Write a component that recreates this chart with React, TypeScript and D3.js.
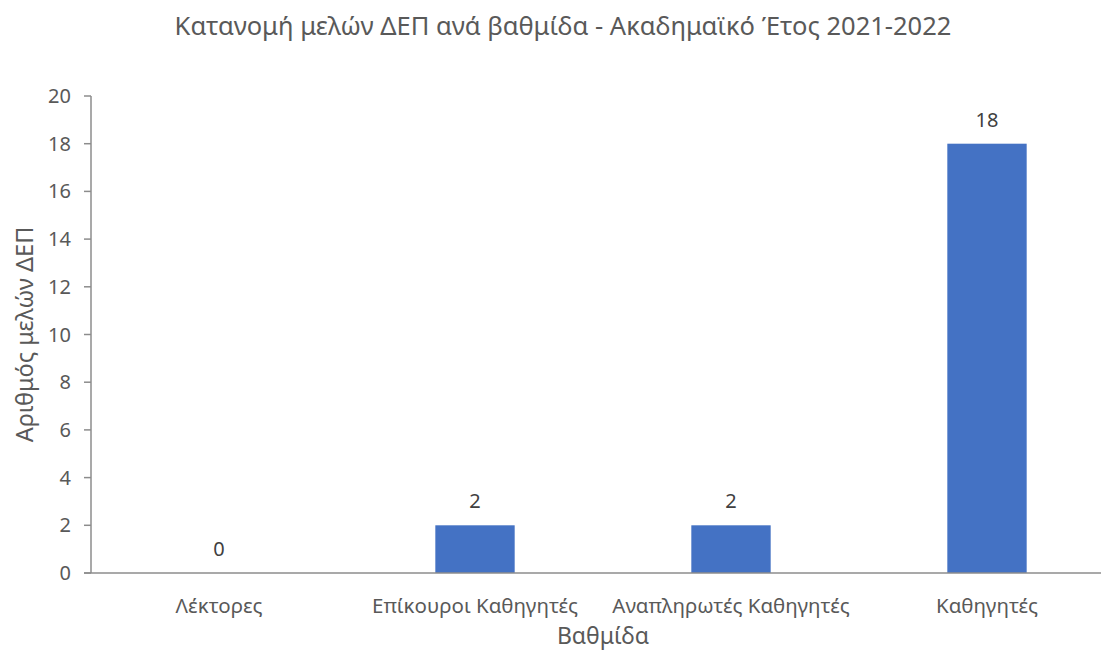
import { useEffect, useRef } from 'react';
import * as d3 from 'd3';

const categories = ['Λέκτορες', 'Επίκουροι Καθηγητές', 'Αναπληρωτές Καθηγητές', 'Καθηγητές'];
const values = [0, 2, 2, 18];
const yTicks = [0, 2, 4, 6, 8, 10, 12, 14, 16, 18, 20];

const title = 'Κατανομή μελών ΔΕΠ ανά βαθμίδα - Ακαδημαϊκό Έτος 2021-2022';
const xTitle = 'Βαθμίδα';
const yTitle = 'Αριθμός μελών ΔΕΠ';

const W = 1101;
const H = 653;
const FONT = "'Noto Sans', 'Open Sans', sans-serif";

export default function App() {
  const svgRef = useRef<SVGSVGElement>(null);

  useEffect(() => {
    if (!svgRef.current) return;
    const svg = d3.select(svgRef.current);
    svg.selectAll('*').remove();

    const left = 91;
    const right = 1115;
    const top = 96;
    const bottom = 573;

    const x = d3.scaleBand<string>().domain(categories).range([left, right]).padding(0);
    const y = d3.scaleLinear().domain([0, 20]).range([bottom, top]);
    const barW = x.bandwidth() * 0.31;

    // title
    svg
      .append('text')
      .attr('x', 563)
      .attr('y', 35)
      .attr('text-anchor', 'middle')
      .attr('fill', '#595959')
      .attr('font-size', '25.5px')
      .attr('font-family', FONT)
      .text(title);

    // bars
    svg
      .selectAll('rect.bar')
      .data(values)
      .join('rect')
      .attr('class', 'bar')
      .attr('x', (_d, i) => (x(categories[i]) ?? 0) + x.bandwidth() / 2 - barW / 2)
      .attr('y', (d) => y(d))
      .attr('width', barW)
      .attr('height', (d) => bottom - y(d))
      .attr('fill', '#4472C4');

    // data labels
    svg
      .selectAll('text.val')
      .data(values)
      .join('text')
      .attr('class', 'val')
      .attr('x', (_d, i) => (x(categories[i]) ?? 0) + x.bandwidth() / 2)
      .attr('y', (d) => y(d) - 17)
      .attr('text-anchor', 'middle')
      .attr('fill', '#404040')
      .attr('font-size', '20px')
      .attr('font-family', FONT)
      .text((d) => String(d));

    // y axis
    const axisColor = '#8c8c8c';
    svg
      .append('line')
      .attr('x1', left)
      .attr('x2', left)
      .attr('y1', top)
      .attr('y2', bottom)
      .attr('stroke', axisColor)
      .attr('stroke-width', 1.5);
    yTicks.forEach((t) => {
      svg
        .append('line')
        .attr('x1', left - 7)
        .attr('x2', left)
        .attr('y1', y(t))
        .attr('y2', y(t))
        .attr('stroke', axisColor)
        .attr('stroke-width', 1.5);
      svg
        .append('text')
        .attr('x', left - 20)
        .attr('y', y(t))
        .attr('dy', '0.35em')
        .attr('text-anchor', 'end')
        .attr('fill', '#595959')
        .attr('font-size', '20px')
        .attr('font-family', FONT)
        .text(String(t));
    });

    // x axis
    svg
      .append('line')
      .attr('x1', left - 7)
      .attr('x2', right)
      .attr('y1', bottom)
      .attr('y2', bottom)
      .attr('stroke', axisColor)
      .attr('stroke-width', 1.5);

    svg
      .selectAll('text.cat')
      .data(categories)
      .join('text')
      .attr('class', 'cat')
      .attr('x', (d) => (x(d) ?? 0) + x.bandwidth() / 2)
      .attr('y', 613)
      .attr('text-anchor', 'middle')
      .attr('fill', '#595959')
      .attr('font-size', '20.5px')
      .attr('font-family', FONT)
      .text((d) => d);

    // axis titles
    svg
      .append('text')
      .attr('x', (left + right) / 2)
      .attr('y', 644)
      .attr('text-anchor', 'middle')
      .attr('fill', '#595959')
      .attr('font-size', '23px')
      .attr('font-family', FONT)
      .text(xTitle);

    svg
      .append('text')
      .attr('transform', `translate(33, ${(top + bottom) / 2}) rotate(-90)`)
      .attr('text-anchor', 'middle')
      .attr('fill', '#595959')
      .attr('font-size', '23.5px')
      .attr('font-family', FONT)
      .text(yTitle);
  }, []);

  return (
    <div style={{ position: 'fixed', left: 0, top: 0, width: W, height: H, background: '#fff' }}>
      <svg ref={svgRef} width={W} height={H} />
    </div>
  );
}
